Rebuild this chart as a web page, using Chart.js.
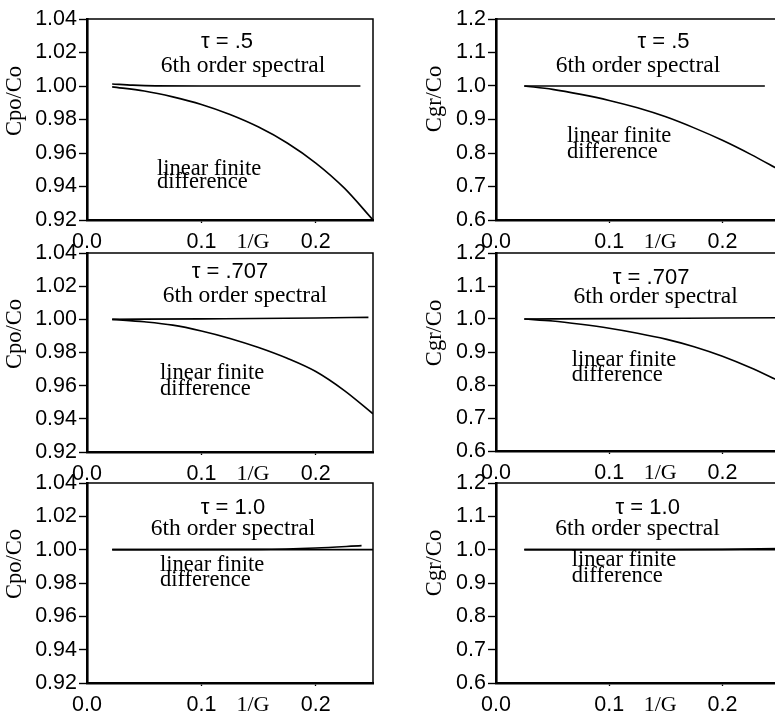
<!DOCTYPE html>
<html>
<head>
<meta charset="utf-8">
<script src="https://cdn.jsdelivr.net/npm/chart.js@4.4.1/dist/chart.umd.min.js"></script>
<style>
    html, body { margin: 0; padding: 0; background: #fff; overflow: hidden; width: 775px; height: 719px; }
    canvas { position: absolute; }
</style>
</head>
<body>
<canvas id="cpo1"></canvas>
<canvas id="cgr1"></canvas>
<canvas id="cpo2"></canvas>
<canvas id="cgr2"></canvas>
<canvas id="cpo3"></canvas>
<canvas id="cgr3"></canvas>
<script>
// -------- DATA --------
const xTickValues = [0, 0.1, 0.145, 0.2];
const xTickLabels = ["0.0", "0.1", "1/G", "0.2"];

const tauLabels = ["τ = .5", "τ = .707", "τ = 1.0"];

// Cpo/Co, tau = .5
const cpo1SpecX = [0.022, 0.04, 0.06, 0.1, 0.15, 0.2, 0.239];
const cpo1SpecY = [1.0012, 1.0005, 1.0001, 1.0, 1.0, 1.0, 1.0];
const cpo1FdX = [0.022, 0.05, 0.075, 0.1, 0.125, 0.15, 0.175, 0.2, 0.225, 0.25];
const cpo1FdY = [0.9995, 0.997, 0.9935, 0.989, 0.983, 0.9755, 0.966, 0.954, 0.939, 0.920];

// Cpo/Co, tau = .707
const cpo2SpecX = [0.022, 0.1, 0.2, 0.246];
const cpo2SpecY = [1.0, 1.0003, 1.0008, 1.0012];
const cpo2FdX = [0.022, 0.05, 0.075, 0.1, 0.125, 0.15, 0.175, 0.2, 0.225, 0.25];
const cpo2FdY = [1.0, 0.9985, 0.9965, 0.993, 0.9885, 0.983, 0.9765, 0.9685, 0.957, 0.943];

// Cpo/Co, tau = 1.0
const cpo3SpecX = [0.022, 0.15, 0.2, 0.24];
const cpo3SpecY = [1.0, 1.0002, 1.001, 1.0024];
const cpo3FdX = [0.022, 0.25];
const cpo3FdY = [1.0, 1.0];

// Cgr/Co, tau = .5
const cgr1SpecX = [0.025, 0.1, 0.2, 0.2375];
const cgr1SpecY = [1.0, 1.0, 1.0, 1.0];
const cgr1FdX = [0.025, 0.05, 0.075, 0.1, 0.125, 0.15, 0.175, 0.2, 0.225, 0.25];
const cgr1FdY = [1.0, 0.990, 0.975, 0.957, 0.935, 0.908, 0.875, 0.838, 0.796, 0.750];

// Cgr/Co, tau = .707
const cgr2SpecX = [0.025, 0.1, 0.2, 0.25];
const cgr2SpecY = [1.0, 1.001, 1.003, 1.004];
const cgr2FdX = [0.025, 0.05, 0.075, 0.1, 0.125, 0.15, 0.175, 0.2, 0.225, 0.25];
const cgr2FdY = [1.0, 0.994, 0.984, 0.972, 0.957, 0.939, 0.916, 0.887, 0.852, 0.812];

// Cgr/Co, tau = 1.0
const cgr3SpecX = [0.025, 0.15, 0.2, 0.25];
const cgr3SpecY = [1.0, 1.0, 1.001, 1.003];
const cgr3FdX = [0.025, 0.25];
const cgr3FdY = [1.0, 1.0];

// -------- FONTS --------
const SANS = "'Liberation Sans', Arial, sans-serif";
const SERIF = "'Liberation Serif', 'Times New Roman', serif";

const toPoints = (xs, ys) => xs.map((x, i) => ({ x: x, y: ys[i] }));

// -------- PANEL LAYOUT --------
const leftAxis = { min: 0.92, max: 1.04, step: 0.02, digits: 2, title: "Cpo/Co" };
const rightAxis = { min: 0.6, max: 1.2, step: 0.1, digits: 1, title: "Cgr/Co" };

const panels = [
    { id: "cpo1", left: 0, top: 0, areaH: 201, yw: 87, w: 298, axis: leftAxis, titleX: 15, titleDy: 82,
      spec: toPoints(cpo1SpecX, cpo1SpecY), fd: toPoints(cpo1FdX, cpo1FdY), tau: tauLabels[0],
      notes: [[0.1224, 1.0263], [0.1364, 1.0119], [0.0612, 0.9504], [0.0612, 0.9427]] },
    { id: "cgr1", left: 390, top: 0, areaH: 201, yw: 106, w: 288, axis: rightAxis, titleX: 45, titleDy: 80,
      spec: toPoints(cgr1SpecX, cgr1SpecY), fd: toPoints(cgr1FdX, cgr1FdY), tau: tauLabels[0],
      notes: [[0.148, 1.131], [0.1254, 1.06], [0.0627, 0.851], [0.0627, 0.803]] },
    { id: "cpo2", left: 0, top: 234, areaH: 199, yw: 87, w: 298, axis: leftAxis, titleX: 15, titleDy: 81,
      spec: toPoints(cpo2SpecX, cpo2SpecY), fd: toPoints(cpo2FdX, cpo2FdY), tau: tauLabels[1],
      notes: [[0.125, 1.0285], [0.138, 1.014], [0.0638, 0.9676], [0.0638, 0.958]] },
    { id: "cgr2", left: 390, top: 234, areaH: 198, yw: 106, w: 288, axis: rightAxis, titleX: 45, titleDy: 80,
      spec: toPoints(cgr2SpecX, cgr2SpecY), fd: toPoints(cgr2FdX, cgr2FdY), tau: tauLabels[1],
      notes: [[0.137, 1.124], [0.141, 1.067], [0.067, 0.876], [0.067, 0.830]] },
    { id: "cpo3", left: 0, top: 464, areaH: 200, yw: 87, w: 298, axis: leftAxis, titleX: 15, titleDy: 81,
      spec: toPoints(cpo3SpecX, cpo3SpecY), fd: toPoints(cpo3FdX, cpo3FdY), tau: tauLabels[2],
      notes: [[0.1276, 1.025], [0.1276, 1.0124], [0.0638, 0.9908], [0.0638, 0.9818]] },
    { id: "cgr3", left: 390, top: 464, areaH: 200, yw: 106, w: 288, axis: rightAxis, titleX: 45, titleDy: 80,
      spec: toPoints(cgr3SpecX, cgr3SpecY), fd: toPoints(cgr3FdX, cgr3FdY), tau: tauLabels[2],
      notes: [[0.134, 1.125], [0.125, 1.062], [0.067, 0.969], [0.067, 0.921]] }
];

const PAD_TOP = 19;
const XAXIS_H = 32;

// -------- FRAME, Y TITLE, ANNOTATIONS --------
const panelDecor = {
    id: "panelDecor",
    afterDraw(chart, args, opts) {
        const { ctx, chartArea: a, scales } = chart;
        ctx.save();

        // top and right sides of the box
        ctx.strokeStyle = "#000";
        ctx.lineWidth = 1.5;
        ctx.beginPath();
        ctx.moveTo(a.left, a.top);
        ctx.lineTo(a.right, a.top);
        ctx.lineTo(a.right, a.bottom);
        ctx.stroke();

        ctx.fillStyle = "#000";

        // y axis title
        ctx.save();
        ctx.translate(opts.titleX, a.top + opts.titleDy);
        ctx.rotate(-Math.PI / 2);
        ctx.font = "22.5px " + SERIF;
        ctx.textAlign = "center";
        ctx.textBaseline = "middle";
        ctx.fillText(opts.title, 0, 0);
        ctx.restore();

        // in-plot labels
        const n = opts.notes;
        const px = v => scales.x.getPixelForValue(v);
        const py = v => scales.y.getPixelForValue(v);
        ctx.textBaseline = "middle";

        ctx.textAlign = "center";
        ctx.font = "22px " + SANS;
        ctx.fillText(opts.tau, px(n[0][0]), py(n[0][1]));

        ctx.font = "23.5px " + SERIF;
        ctx.fillText("6th order spectral", px(n[1][0]), py(n[1][1]));

        ctx.textAlign = "left";
        ctx.font = "22.5px " + SERIF;
        ctx.fillText("linear finite", px(n[2][0]), py(n[2][1]));
        ctx.fillText("difference", px(n[3][0]), py(n[3][1]));

        ctx.restore();
    }
};

// -------- BUILD CHARTS --------
panels.forEach(p => {
    const canvas = document.getElementById(p.id);
    const width = p.yw + p.w;
    const height = PAD_TOP + p.areaH + XAXIS_H;
    canvas.width = width;
    canvas.height = height;
    canvas.style.left = p.left + "px";
    canvas.style.top = p.top + "px";
    canvas.style.width = width + "px";
    canvas.style.height = height + "px";

    new Chart(canvas.getContext("2d"), {
        type: "line",
        data: {
            datasets: [
                { label: "6th order spectral", data: p.spec },
                { label: "linear finite difference", data: p.fd }
            ]
        },
        options: {
            responsive: false,
            animation: false,
            devicePixelRatio: 1,
            layout: { padding: { top: PAD_TOP, right: width - p.yw - (p.axis === leftAxis ? 286 : 283), left: 0, bottom: 0 } },
            elements: {
                point: { radius: 0 },
                line: { borderColor: "#000", borderWidth: 1.6, cubicInterpolationMode: "monotone", fill: false }
            },
            plugins: {
                legend: { display: false },
                tooltip: { enabled: false },
                panelDecor: { title: p.axis.title, titleX: p.titleX, titleDy: p.titleDy, tau: p.tau, notes: p.notes }
            },
            scales: {
                x: {
                    type: "linear",
                    min: 0,
                    max: 0.25,
                    afterFit: s => { s.height = XAXIS_H; },
                    afterBuildTicks: s => { s.ticks = xTickValues.map(v => ({ value: v })); },
                    border: { display: true, color: "#000", width: 2.6 },
                    grid: {
                        drawOnChartArea: false,
                        drawTicks: true,
                        tickLength: 3,
                        tickWidth: 1.3,
                        tickColor: c => (c.index === 1 || c.index === 3) ? "#000" : "rgba(0,0,0,0)"
                    },
                    ticks: {
                        autoSkip: false,
                        maxRotation: 0,
                        padding: 6,
                        color: "#000",
                        callback: (v, i) => xTickLabels[i],
                        font: c => c.index === 2 ? { family: SERIF, size: 22 } : { family: SANS, size: 21.5 }
                    }
                },
                y: {
                    type: "linear",
                    min: p.axis.min,
                    max: p.axis.max,
                    afterFit: s => { s.width = p.yw; },
                    border: { display: true, color: "#000", width: 2.6 },
                    grid: {
                        drawOnChartArea: false,
                        drawTicks: true,
                        tickLength: 8,
                        tickWidth: 1.4,
                        tickColor: "#000"
                    },
                    ticks: {
                        stepSize: p.axis.step,
                        padding: 2,
                        color: "#000",
                        font: { family: SANS, size: 21.5 },
                        callback: v => v.toFixed(p.axis.digits)
                    }
                }
            }
        },
        plugins: [panelDecor]
    });
});
</script>
</body>
</html>
